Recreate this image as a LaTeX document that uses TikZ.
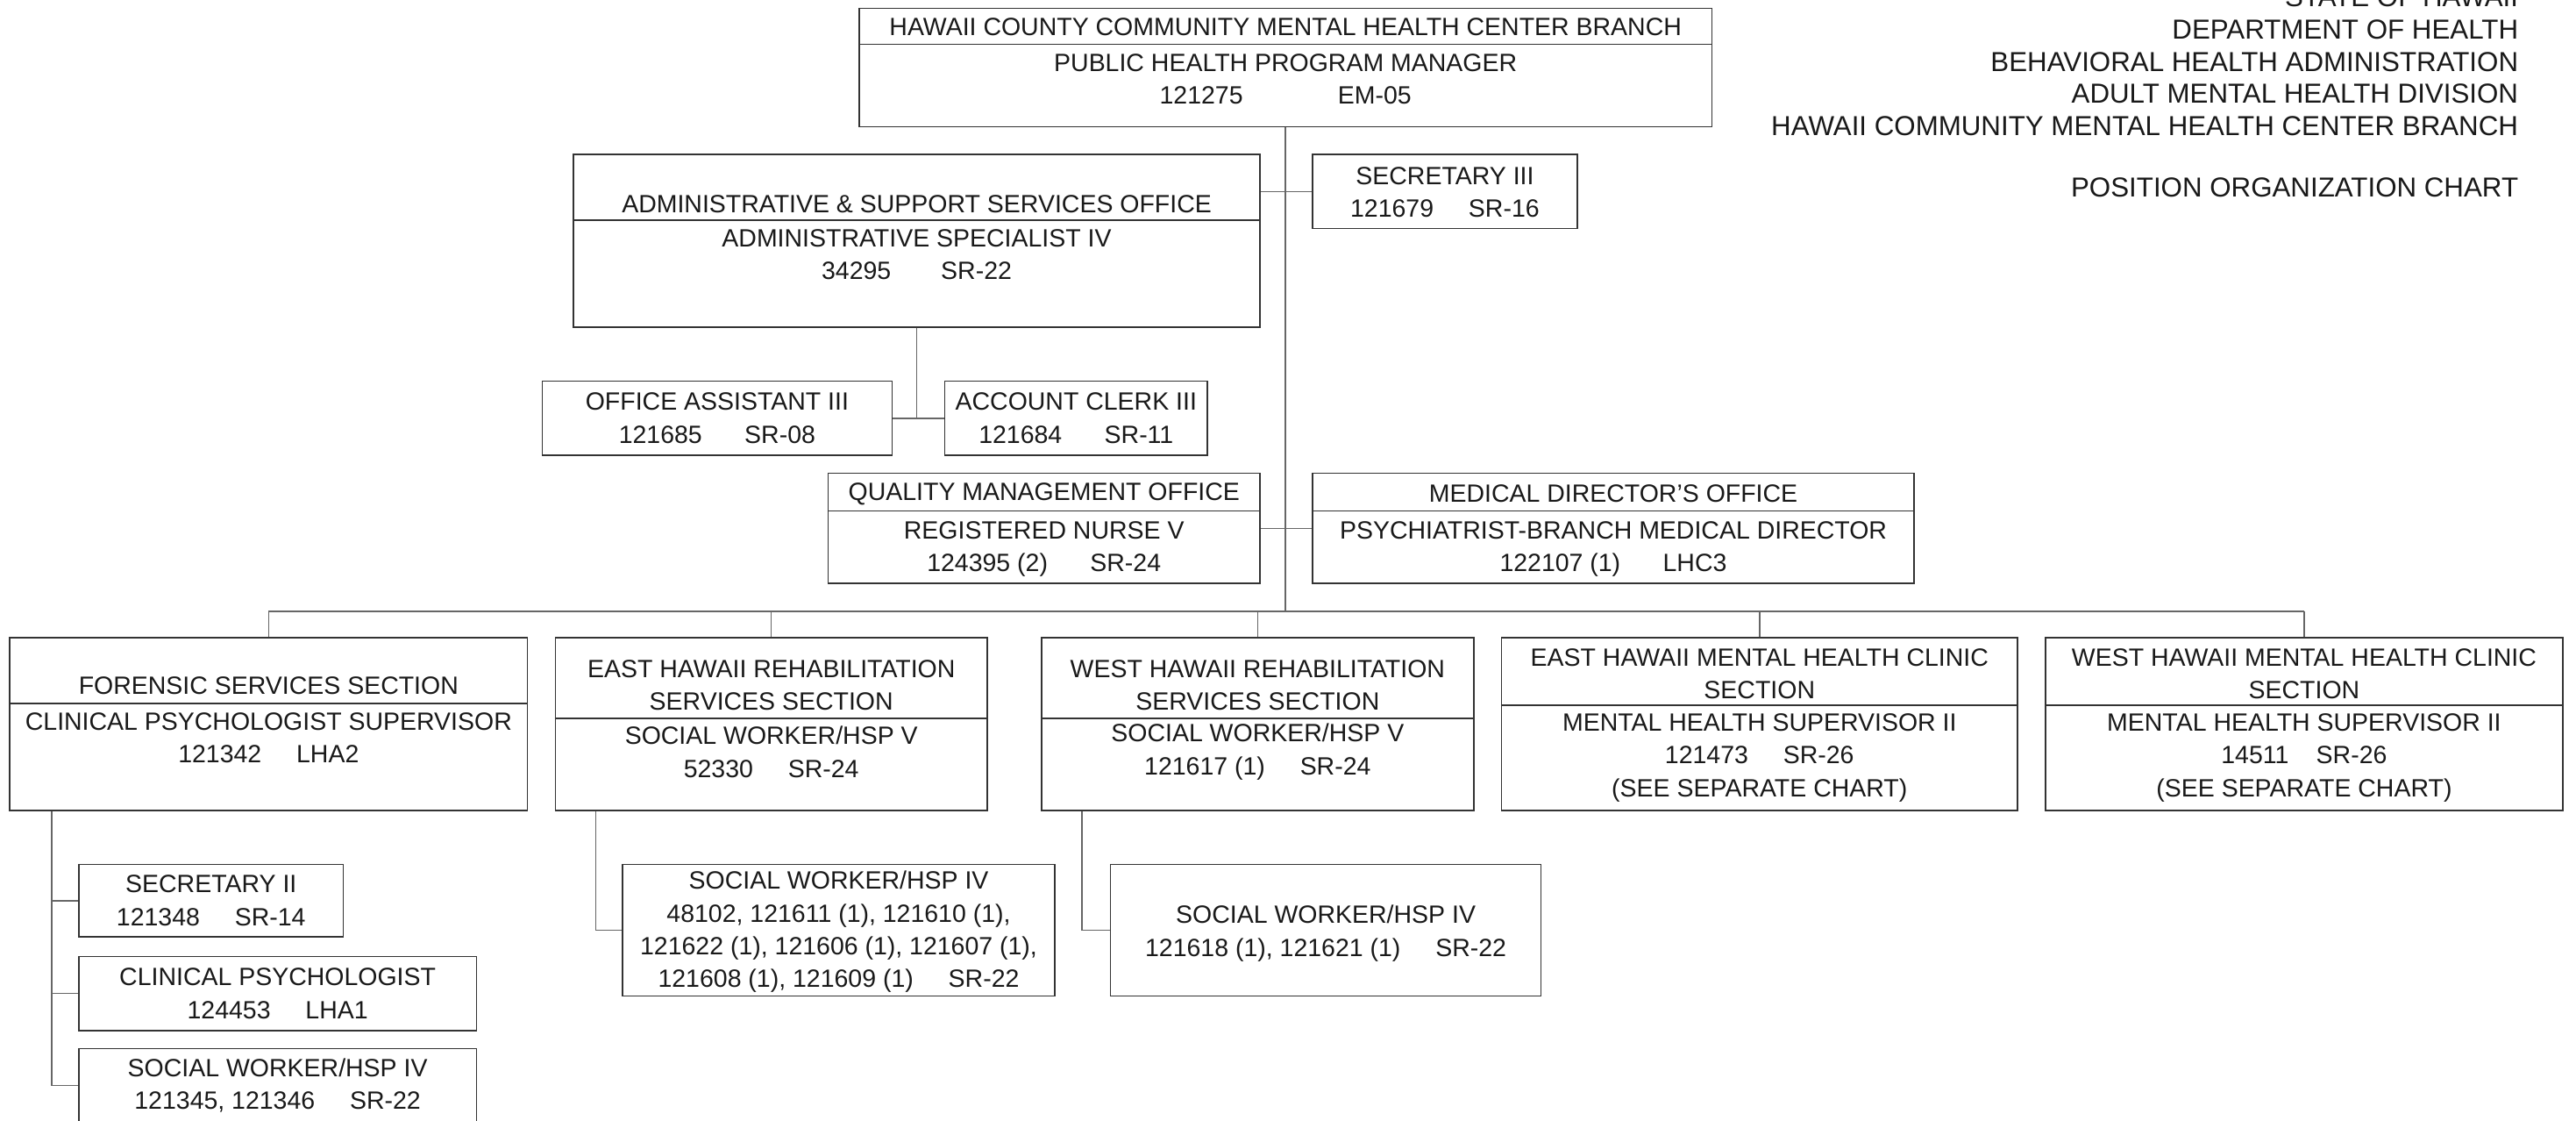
\documentclass[tikz,border=0pt]{standalone}
\usepackage{fontspec}
\setmainfont{Liberation Sans}
\usetikzlibrary{positioning,calc}
\tikzstyle{box} = [draw=black!80, line width=0.8pt, inner sep=0pt]
\tikzstyle{txt} = [align=center, inner sep=0pt, text=black!90, font=\fontsize{15.2}{20}\selectfont]
\tikzstyle{hdr} = [align=right, inner sep=0pt, text=black!90, font=\fontsize{16.7}{19.5}\selectfont]
\tikzstyle{line} = [draw=black!60, line width=0.8pt]
\newcommand{\codegap}{\hspace{1.4em}}

\begin{document}
\begin{tikzpicture}[x=1pt, y=-1pt]
\useasboundingbox (0,0) rectangle (1568,682);

\node[hdr, anchor=north east] (title) at (1533,-7.6) {STATE OF HAWAII\\DEPARTMENT OF HEALTH\\BEHAVIORAL HEALTH ADMINISTRATION\\ADULT MENTAL HEALTH DIVISION\\HAWAII COMMUNITY MENTAL HEALTH CENTER BRANCH\\[18pt]POSITION ORGANIZATION CHART};

% branch
\node[box, minimum width=519pt, minimum height=72pt] (branch) at (782.5,41) {};
\draw[box] (branch.west |- 0,27) -- (branch.east |- 0,27);
\node[txt] (branch-t) at (782.5,16.5) {HAWAII COUNTY COMMUNITY MENTAL HEALTH CENTER BRANCH};
\node[txt] (branch-p) at (782.5,48) {PUBLIC HEALTH PROGRAM MANAGER\\121275\hspace{3.8em}EM-05};

% staff offices
\node[box, minimum width=418pt, minimum height=105pt] (admin) at (558,146.5) {};
\draw[box] (admin.west |- 0,134) -- (admin.east |- 0,134);
\node[txt] (admin-t) at (558,124) {ADMINISTRATIVE \& SUPPORT SERVICES OFFICE};
\node[txt] (admin-p) at (558,155) {ADMINISTRATIVE SPECIALIST IV\\34295\hspace{2em}SR-22};

\node[box, minimum width=161pt, minimum height=45pt] (sec3) at (879.5,116.5) {};
\node[txt] (sec3-p) at (879.5,117) {SECRETARY III\\121679\codegap SR-16};

\node[box, minimum width=213pt, minimum height=45pt] (oa) at (436.5,254.5) {};
\node[txt] (oa-p) at (436.5,254.5) {OFFICE ASSISTANT III\\121685\hspace{1.7em}SR-08};
\node[box, minimum width=160pt, minimum height=45pt] (ac) at (655,254.5) {};
\node[txt] (ac-p) at (655,254.5) {ACCOUNT CLERK III\\121684\hspace{1.7em}SR-11};

\node[box, minimum width=263pt, minimum height=67pt] (qm) at (635.5,321.5) {};
\draw[box] (qm.west |- 0,311) -- (qm.east |- 0,311);
\node[txt] (qm-t) at (635.5,300.5) {QUALITY MANAGEMENT OFFICE};
\node[txt] (qm-p) at (635.5,334) {REGISTERED NURSE V\\124395 (2)\hspace{1.7em}SR-24};

\node[box, minimum width=366pt, minimum height=67pt] (md) at (982,321.5) {};
\draw[box] (md.west |- 0,311) -- (md.east |- 0,311);
\node[txt] (md-t) at (982,300.5) {MEDICAL DIRECTOR'S OFFICE};
\node[txt] (md-p) at (982,334) {PSYCHIATRIST-BRANCH MEDICAL DIRECTOR\\122107 (1)\hspace{1.7em}LHC3};

% sections
\node[box, minimum width=315pt, minimum height=105pt] (forensic) at (163.5,440.5) {};
\draw[box] (forensic.west |- 0,428) -- (forensic.east |- 0,428);
\node[txt] (forensic-t) at (163.5,417) {FORENSIC SERVICES SECTION};
\node[txt] (forensic-p) at (163.5,449) {CLINICAL PSYCHOLOGIST SUPERVISOR\\121342\codegap LHA2};

\node[box, minimum width=263pt, minimum height=105pt] (ehrehab) at (469.5,440.5) {};
\draw[box] (ehrehab.west |- 0,437) -- (ehrehab.east |- 0,437);
\node[txt] (ehrehab-t) at (469.5,417) {EAST HAWAII REHABILITATION\\SERVICES SECTION};
\node[txt] (ehrehab-p) at (469.5,457.5) {SOCIAL WORKER/HSP V\\52330\codegap SR-24};

\node[box, minimum width=263pt, minimum height=105pt] (whrehab) at (765.5,440.5) {};
\draw[box] (whrehab.west |- 0,437) -- (whrehab.east |- 0,437);
\node[txt] (whrehab-t) at (765.5,417) {WEST HAWAII REHABILITATION\\SERVICES SECTION};
\node[txt] (whrehab-p) at (765.5,457.5) {SOCIAL WORKER/HSP V\\121617 (1)\codegap SR-24};

\node[box, minimum width=314pt, minimum height=105pt] (ehmhc) at (1071,440.5) {};
\draw[box] (ehmhc.west |- 0,429) -- (ehmhc.east |- 0,429);
\node[txt] (ehmhc-t) at (1071,410) {EAST HAWAII MENTAL HEALTH CLINIC\\SECTION};
\node[txt] (ehmhc-p) at (1071,461) {MENTAL HEALTH SUPERVISOR II\\121473\codegap SR-26\\(SEE SEPARATE CHART)};

\node[box, minimum width=315pt, minimum height=105pt] (whmhc) at (1402.5,440.5) {};
\draw[box] (whmhc.west |- 0,429) -- (whmhc.east |- 0,429);
\node[txt] (whmhc-t) at (1402.5,410) {WEST HAWAII MENTAL HEALTH CLINIC\\SECTION};
\node[txt] (whmhc-p) at (1402.5,461) {MENTAL HEALTH SUPERVISOR II\\14511\hspace{1.1em}SR-26\\(SEE SEPARATE CHART)};

% units under sections
\node[box, minimum width=161pt, minimum height=44pt] (sec2) at (128.5,548) {};
\node[txt] (sec2-p) at (128.5,548) {SECRETARY II\\121348\codegap SR-14};
\node[box, minimum width=242pt, minimum height=45pt] (clinpsy) at (169,604.5) {};
\node[txt] (clinpsy-p) at (169,604.5) {CLINICAL PSYCHOLOGIST\\124453\codegap LHA1};
\node[box, minimum width=242pt, minimum height=45pt] (swfor) at (169,660.5) {};
\node[txt] (swfor-p) at (169,660.5) {SOCIAL WORKER/HSP IV\\121345, 121346\codegap SR-22};

\node[box, minimum width=263pt, minimum height=80pt] (sweast) at (510.5,566) {};
\node[txt] (sweast-p) at (510.5,567) {SOCIAL WORKER/HSP IV\\48102, 121611 (1), 121610 (1),\\121622 (1), 121606 (1), 121607 (1),\\121608 (1), 121609 (1)\codegap SR-22};
\node[box, minimum width=262pt, minimum height=80pt] (swwest) at (807,566) {};
\node[txt] (swwest-p) at (807,568) {SOCIAL WORKER/HSP IV\\121618 (1), 121621 (1)\codegap SR-22};

% connectors
\coordinate (bus) at (783,372);
\draw[line] (branch.south) -- (branch.south |- bus);
\draw[line] (forensic.north |- bus) -- (whmhc.north |- bus);
\foreach \s in {forensic,ehrehab,whrehab,ehmhc,whmhc}
  \draw[line] (\s.north) -- (\s.north |- bus);
\draw[line] (admin.east |- sec3.west) -- (sec3.west);
\draw[line] (qm.east |- md.west) -- (md.west);
\draw[line] (admin.south) -- (admin.south |- oa.east);
\draw[line] (oa.east) -- (ac.west);

\coordinate (fstem) at ([xshift=26pt]forensic.south west);
\draw[line] (fstem) |- (swfor.west);
\draw[line] (fstem |- sec2.west) -- (sec2.west);
\draw[line] (fstem |- clinpsy.west) -- (clinpsy.west);
\draw[line] ([xshift=25pt]ehrehab.south west) |- (sweast.west);
\draw[line] ([xshift=25pt]whrehab.south west) |- (swwest.west);
% \draw[line] (branch.south) -- (forensic.north);
\end{tikzpicture}
\end{document}
